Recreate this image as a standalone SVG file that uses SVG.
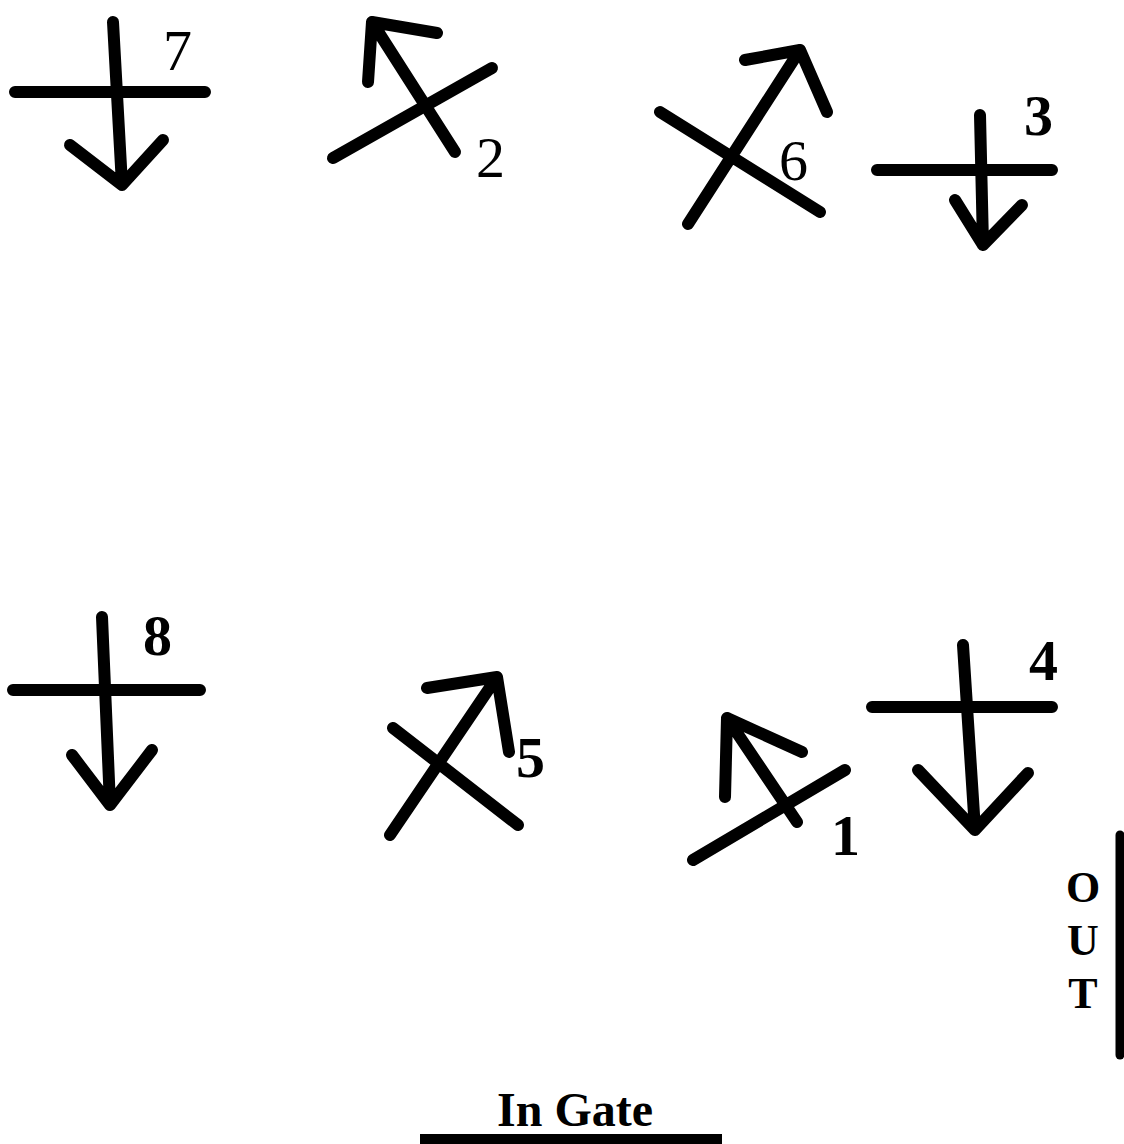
<svg xmlns="http://www.w3.org/2000/svg" width="1124" height="1144" viewBox="0 0 1124 1144">
<style>
.s{stroke:#000;stroke-width:12;stroke-linecap:round;stroke-linejoin:round;fill:none}
.n{font-family:"Liberation Serif","Times New Roman",serif;font-size:58px;fill:#000}
.b{font-weight:bold}
.t{font-family:"Liberation Serif","Times New Roman",serif;font-size:44px;font-weight:bold;fill:#000;text-anchor:middle}
</style>
<rect width="1124" height="1144" fill="#fff"/>
<g id="jump7">
<path class="s" d="M15 92H205M113 22L122 185M70 145L122 185L163 140"/>
<text class="n" x="163" y="70">7</text>
</g>
<g id="jump2">
<path class="s" d="M333 158L492 68M455 152L372 22M368 82L372 22L437 33"/>
<text class="n" x="476" y="177">2</text>
</g>
<g id="jump6">
<path class="s" d="M660 112L820 212M688 224L800 50M745 60L800 50L827 112"/>
<text class="n" x="779" y="180">6</text>
</g>
<g id="jump3">
<path class="s" d="M877 170H1052M980 115L983 245M955 200L983 245L1022 205"/>
<text class="n b" x="1024" y="135">3</text>
</g>
<g id="jump8">
<path class="s" d="M13 690H200M102 617L110 805M72 755L110 805L152 750"/>
<text class="n b" x="143" y="655">8</text>
</g>
<g id="jump5">
<path class="s" d="M393 728L518 825M390 835L497 677M427 688L497 677L509 752"/>
<text class="n b" x="516" y="777">5</text>
</g>
<g id="jump1">
<path class="s" d="M693 860L845 770M797 822L727 718M725 797L727 718L802 752"/>
<text class="n b" x="831" y="855">1</text>
</g>
<g id="jump4">
<path class="s" d="M872 707H1052M963 645L975 830M918 770L975 830L1028 773"/>
<text class="n b" x="1029" y="680">4</text>
</g>
<g id="out">
<path d="M1120 835V1055" stroke="#000" stroke-width="9" stroke-linecap="round"/>
<text class="t" x="1083" y="902">O</text>
<text class="t" x="1083" y="955">U</text>
<text class="t" x="1083" y="1008">T</text>
</g>
<g id="ingate">
<text class="t" x="575" y="1126" style="font-size:48px">In Gate</text>
<path d="M420 1139H722" stroke="#000" stroke-width="10"/>
</g>
</svg>
